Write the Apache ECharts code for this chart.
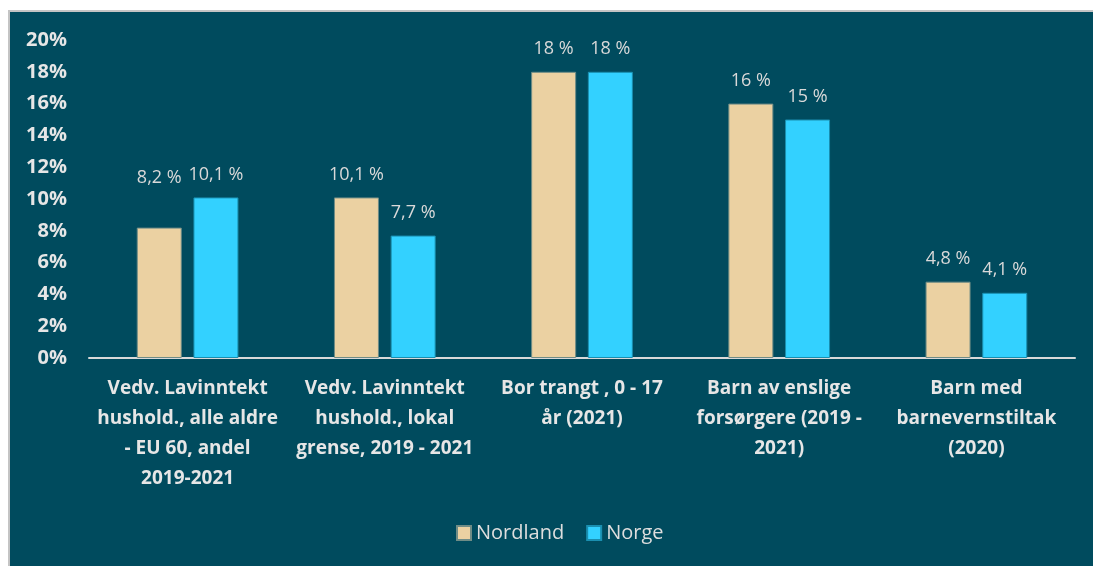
<!DOCTYPE html>
<html>
<head>
<meta charset="utf-8">
<script src="https://cdn.jsdelivr.net/npm/echarts@6/dist/echarts.min.js"></script>
<style>
  html, body { margin: 0; padding: 0; background: #ffffff; }
  #chart {
    position: absolute; left: 8px; top: 10px; width: 1085px; height: 556px;
    background: #004b5e; border-top: 2px solid #c4c4c4; border-left: 2px solid #c4c4c4;
    box-sizing: border-box;
  }
</style>
</head>
<body>
<div id="chart"></div>
<script>
// Lavinntekt, trangboddhet m.m. – Nordland mot Norge
const categories = [
  'Vedv. Lavinntekt\nhushold., alle aldre\n- EU 60, andel\n2019-2021',
  'Vedv. Lavinntekt\nhushold., lokal\ngrense, 2019 - 2021',
  'Bor trangt , 0 - 17\når (2021)',
  'Barn av enslige\nforsørgere (2019 -\n2021)',
  'Barn med\nbarnevernstiltak\n(2020)',
];
const nordland = [8.2, 10.1, 18, 16, 4.8];
const norge = [10.1, 7.7, 18, 15, 4.1];
// visningstekst for etikettene (som i originalen)
const nordlandLabels = ['8,2 %', '10,1 %', '18 %', '16 %', '4,8 %'];
const norgeLabels = ['10,1 %', '7,7 %', '18 %', '15 %', '4,1 %'];

const TXT = '#e6e6e6';
const FONT = '"Open Sans", "Liberation Sans", sans-serif';

const chart = echarts.init(document.getElementById('chart'), null, { renderer: 'canvas' });

const labelFor = (texts) => ({
  show: true,
  position: 'top',
  distance: 14,
  color: '#d9d9d9',
  fontFamily: FONT,
  fontSize: 18,
  formatter: (p) => texts[p.dataIndex],
});

// første Nordland-etikett er flyttet opp i originalen
const nordlandData = nordland.map((v, i) => (i === 0 ? { value: v, label: { offset: [0, -27] } } : v));

chart.setOption({
  backgroundColor: 'transparent',
  animation: false,
  textStyle: { fontFamily: FONT },
  grid: { left: 79, right: 18, top: 28, bottom: 208, containLabel: false },
  legend: {
    bottom: 18,
    left: 441,
    itemWidth: 14,
    itemHeight: 14,
    itemGap: 22,
    icon: 'rect',
    textStyle: { color: '#dedede', fontSize: 20, fontFamily: FONT },
    data: ['Nordland', 'Norge'],
  },
  xAxis: {
    type: 'category',
    data: categories,
    axisTick: { show: false },
    axisLine: { lineStyle: { color: '#d9d9d9', width: 2 } },
    axisLabel: {
      color: TXT,
      fontSize: 19,
      fontWeight: 'bold',
      fontFamily: FONT,
      lineHeight: 30,
      margin: 16,
      interval: 0,
      align: 'center',
    },
  },
  yAxis: {
    type: 'value',
    min: 0,
    max: 20,
    interval: 2,
    splitLine: { show: false },
    axisLine: { show: false },
    axisTick: { show: false },
    axisLabel: {
      color: TXT,
      fontSize: 20,
      fontWeight: 'bold',
      fontFamily: FONT,
      margin: 22,
      formatter: (v) => v + '%',
    },
  },
  series: [
    {
      name: 'Nordland',
      type: 'bar',
      data: nordlandData,
      barWidth: 45,
      barGap: '26%',
      itemStyle: { color: '#ebd1a2', borderColor: '#6f8c86', borderWidth: 1 },
      label: labelFor(nordlandLabels),
    },
    {
      name: 'Norge',
      type: 'bar',
      data: norge,
      barWidth: 45,
      itemStyle: { color: '#33d1ff', borderColor: '#1a8fb0', borderWidth: 1 },
      label: labelFor(norgeLabels),
    },
  ],
});

window.addEventListener('resize', () => chart.resize());
</script>
</body>
</html>
